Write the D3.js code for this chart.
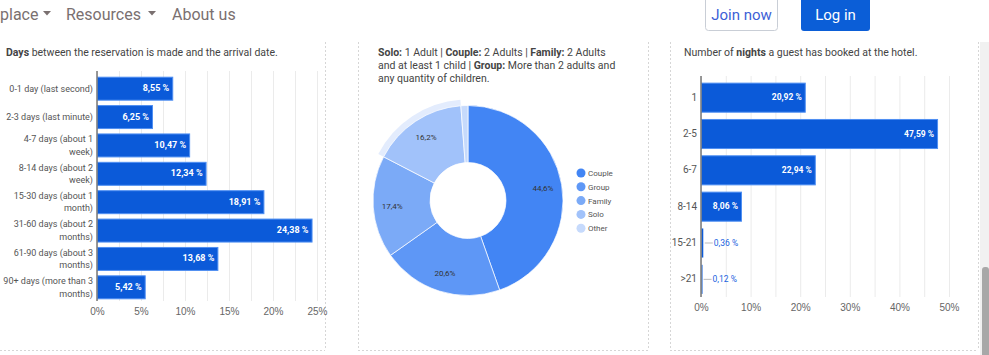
<!DOCTYPE html>
<html lang="en">
<head>
<meta charset="UTF-8">
<title>Guest booking stats</title>
<script src="https://d3js.org/d3.v7.min.js"></script>
<style>
  body { margin: 0; background: #fff; overflow: hidden; }
  svg { font-family: Roboto, "Noto Sans", sans-serif; display: block; }
</style>
</head>
<body>
<script>
// lead time chart
const leadCats = ["0-1 day (last second)", "2-3 days (last minute)", "4-7 days (about 1 week)",
  "8-14 days (about 2 week)", "15-30 days (about 1 month)", "31-60 days (about 2 months)",
  "61-90 days (about 3 months)", "90+ days (more than 3 months)"];
const leadValues = [8.55, 6.25, 10.47, 12.34, 18.91, 24.38, 13.68, 5.42];
const leadTicks = [0, 5, 10, 15, 20, 25];
const leadGrid = [0, 2.5, 5, 7.5, 10, 12.5, 15, 17.5, 20, 22.5, 25];

// party type donut
const partyCats = ["Couple", "Group", "Family", "Solo", "Other"];
const partyValues = [44.6, 20.6, 17.4, 16.2, 1.2];
const partyColors = ["#4285f4", "#5e97f6", "#7baaf7", "#a1c2fa", "#c6dafc"];

// nights chart
const nightCats = ["1", "2-5", "6-7", "8-14", "15-21", ">21"];
const nightValues = [20.92, 47.59, 22.94, 8.06, 0.36, 0.12];
const nightTicks = [0, 10, 20, 30, 40, 50];
const nightGrid = [0, 5, 10, 15, 20, 25, 30, 35, 40, 45, 50];

const W = 989, H = 355;
const barFill = "#0b5ad9", barStroke = "#4f8ff2", labelBlue = "#1a63e0";
const fmt = v => d3.format(".2f")(v).replace(".", ",") + " %";

const svg = d3.select("body").append("svg").attr("width", W).attr("height", H);

// ---- navbar ----
const nav = svg.append("g").attr("fill", "#7a7070").style("font-size", "16px");
[["place", 0, 43], ["Resources", 66, 148], ["About us", 172, null]].forEach(([t, x, cx]) => {
  nav.append("text").attr("x", x).attr("y", 20).text(t);
  if (cx !== null) nav.append("path").attr("d", `M${cx},11l8,0l-4,4.5z`);
});
svg.append("rect").attr("x", 705.5).attr("y", -5).attr("width", 72).attr("height", 35.5)
  .attr("rx", 3).attr("fill", "#fff").attr("stroke", "#c9ced6");
svg.append("text").attr("x", 741.5).attr("y", 20).attr("text-anchor", "middle")
  .attr("fill", "#3d5fd6").style("font-size", "15px").text("Join now");
svg.append("rect").attr("x", 801).attr("y", -5).attr("width", 69).attr("height", 36)
  .attr("rx", 3).attr("fill", "#0b5ed7");
svg.append("text").attr("x", 835.5).attr("y", 20).attr("text-anchor", "middle")
  .attr("fill", "#fff").style("font-size", "15px").text("Log in");

// scrollbar
svg.append("rect").attr("x", 980).attr("y", 42).attr("width", 9).attr("height", H - 42).attr("fill", "#f1f1f1");
svg.append("rect").attr("x", 982).attr("y", 267).attr("width", 7).attr("height", 100).attr("rx", 3).attr("fill", "#a8a8a8");

// ---- card borders ----
function card(x0, x1) {
  const g = svg.append("g").attr("fill", "none").attr("stroke", "#d6d6d6").attr("stroke-dasharray", "2,2");
  if (x0 !== null) g.append("line").attr("x1", x0 + .5).attr("x2", x0 + .5).attr("y1", 42).attr("y2", 350);
  g.append("line").attr("x1", x1 + .5).attr("x2", x1 + .5).attr("y1", 42).attr("y2", 350);
  g.append("line").attr("x1", x0 === null ? 0 : x0).attr("x2", x1).attr("y1", 350.5).attr("y2", 350.5);
}
card(null, 325);
card(358, 648);
card(670, 978);

function richLine(x, y, parts) {
  const t = svg.append("text").attr("x", x).attr("y", y).attr("fill", "#444").style("font-size", "10.5px");
  parts.forEach(([s, b]) => t.append("tspan").attr("font-weight", b ? "bold" : null).text(s));
}
richLine(6, 56, [["Days", 1], [" between the reservation is made and the arrival date.", 0]]);
richLine(378, 56, [["Solo:", 1], [" 1 Adult | ", 0], ["Couple:", 1], [" 2 Adults | ", 0], ["Family:", 1], [" 2 Adults", 0]]);
richLine(378, 69, [["and at least 1 child | ", 0], ["Group:", 1], [" More than 2 adults and", 0]]);
richLine(378, 82, [["any quantity of children.", 0]]);
richLine(684, 56, [["Number of ", 0], ["nights", 1], [" a guest has booked at the hotel.", 0]]);

function wrap(sel, width) {
  sel.each(function () {
    const text = d3.select(this), words = text.text().split(/\s+/), x = text.attr("x");
    const lines = [];
    let line = [];
    text.text(null);
    const probe = text.append("tspan");
    words.forEach(w => {
      line.push(w);
      probe.text(line.join(" "));
      if (probe.node().getComputedTextLength() > width && line.length > 1) {
        line.pop();
        lines.push(line.join(" "));
        line = [w];
      }
    });
    lines.push(line.join(" "));
    probe.remove();
    const lh = 12.5, off = -(lines.length - 1) * lh / 2;
    lines.forEach((l, i) => text.append("tspan").attr("x", x).attr("dy", i === 0 ? off + 3.5 : lh).text(l));
  });
}

function hbar(o) {
  const x = d3.scaleLinear().domain(o.domain).range([o.left, o.right]);
  const y = d3.scaleBand().domain(o.cats).range([o.top, o.bottom]).paddingInner(o.pad).paddingOuter(o.pad / 2);
  const g = svg.append("g");
  g.selectAll(".grid").data(o.grid).enter().append("line")
    .attr("x1", d => x(d) + .5).attr("x2", d => x(d) + .5)
    .attr("y1", o.top - 3).attr("y2", o.bottom).attr("stroke", "#ebebeb");
  const xa = g.append("g").attr("transform", `translate(0,${o.bottom + 4})`)
    .call(d3.axisBottom(x).tickValues(o.ticks).tickSize(0).tickFormat(d => d + "%"));
  xa.select(".domain").remove();
  xa.selectAll("text").attr("fill", "#666").style("font-size", "10px").attr("font-family", null);
  const rows = o.cats.map((c, i) => ({ c, v: o.values[i] }));
  g.selectAll(".bar").data(rows).enter().append("rect")
    .attr("x", x(0) + .5).attr("y", d => y(d.c) + .5)
    .attr("width", d => Math.max(1, x(d.v) - x(0)))
    .attr("height", y.bandwidth())
    .attr("fill", barFill).attr("stroke", d => x(d.v) - x(0) > 3 ? barStroke : "none");
  rows.forEach(d => {
    const xe = x(d.v), cy = y(d.c) + y.bandwidth() / 2;
    if (xe - x(0) > 30) {
      g.append("text").attr("x", xe - 3).attr("y", cy + 3).attr("text-anchor", "end")
        .attr("fill", "#fff").attr("font-weight", "bold").style("font-size", o.lblSize).text(fmt(d.v));
    } else {
      g.append("line").attr("x1", xe + 2).attr("x2", xe + 10).attr("y1", cy + .5).attr("y2", cy + .5)
        .attr("stroke", "#bbb");
      g.append("text").attr("x", xe + 11).attr("y", cy + 3).attr("fill", labelBlue)
        .style("font-size", o.lblSize).text(fmt(d.v));
    }
  });
  g.append("line").attr("x1", x(0)).attr("x2", x(0)).attr("y1", o.top - 3).attr("y2", o.bottom)
    .attr("stroke", "#777").attr("stroke-width", 1.5);
  const yl = g.selectAll(".ylab").data(o.cats).enter().append("text")
    .attr("x", o.left - 4).attr("y", d => y(d) + y.bandwidth() / 2)
    .attr("text-anchor", "end").attr("fill", "#555").style("font-size", o.ySize).text(d => d);
  yl.call(wrap, o.wrapW);
}

hbar({ cats: leadCats, values: leadValues, domain: [0, 25], left: 97, right: 317,
  top: 74, bottom: 301, pad: 0.19, grid: leadGrid, ticks: leadTicks, lblSize: "9px",
  ySize: "9px", wrapW: 92 });
hbar({ cats: nightCats, values: nightValues, domain: [0, 50], left: 701, right: 949,
  top: 79, bottom: 297, pad: 0.2, grid: nightGrid, ticks: nightTicks, lblSize: "8.5px",
  ySize: "10px", wrapW: 60 });

// ---- donut ----
const cx = 468, cy = 200.5, R = 95, r0 = 38;
const pie = d3.pie().sort(null)(partyValues);
const arc = d3.arc().innerRadius(r0).outerRadius(R);
const lblArc = d3.arc().innerRadius(76).outerRadius(76);
const dg = svg.append("g").attr("transform", `translate(${cx},${cy})`);
const soloIdx = partyCats.indexOf("Solo");
dg.append("path")
  .attr("d", d3.arc().innerRadius(R).outerRadius(R + 6)(pie[soloIdx]))
  .attr("fill", "#e3ecfd");
dg.selectAll(".slice").data(pie).enter().append("path")
  .attr("d", arc).attr("fill", (d, i) => partyColors[i]).attr("stroke", "#fff").attr("stroke-width", 0.7);
dg.selectAll(".plab").data(pie.filter(d => d.value > 5)).enter().append("text")
  .attr("transform", d => `translate(${lblArc.centroid(d)})`).attr("dy", 3)
  .attr("text-anchor", "middle").attr("fill", "#333").style("font-size", "8px")
  .text(d => String(d.value).replace(".", ",") + "%");

const lg = svg.append("g").attr("transform", "translate(581,173)");
partyCats.forEach((c, i) => {
  const row = lg.append("g").attr("transform", `translate(0,${i * 13.8})`);
  row.append("circle").attr("r", 4.5).attr("fill", partyColors[i]);
  row.append("text").attr("x", 7).attr("y", 3).attr("fill", "#555").style("font-size", "8px").text(c);
});
</script>
</body>
</html>
